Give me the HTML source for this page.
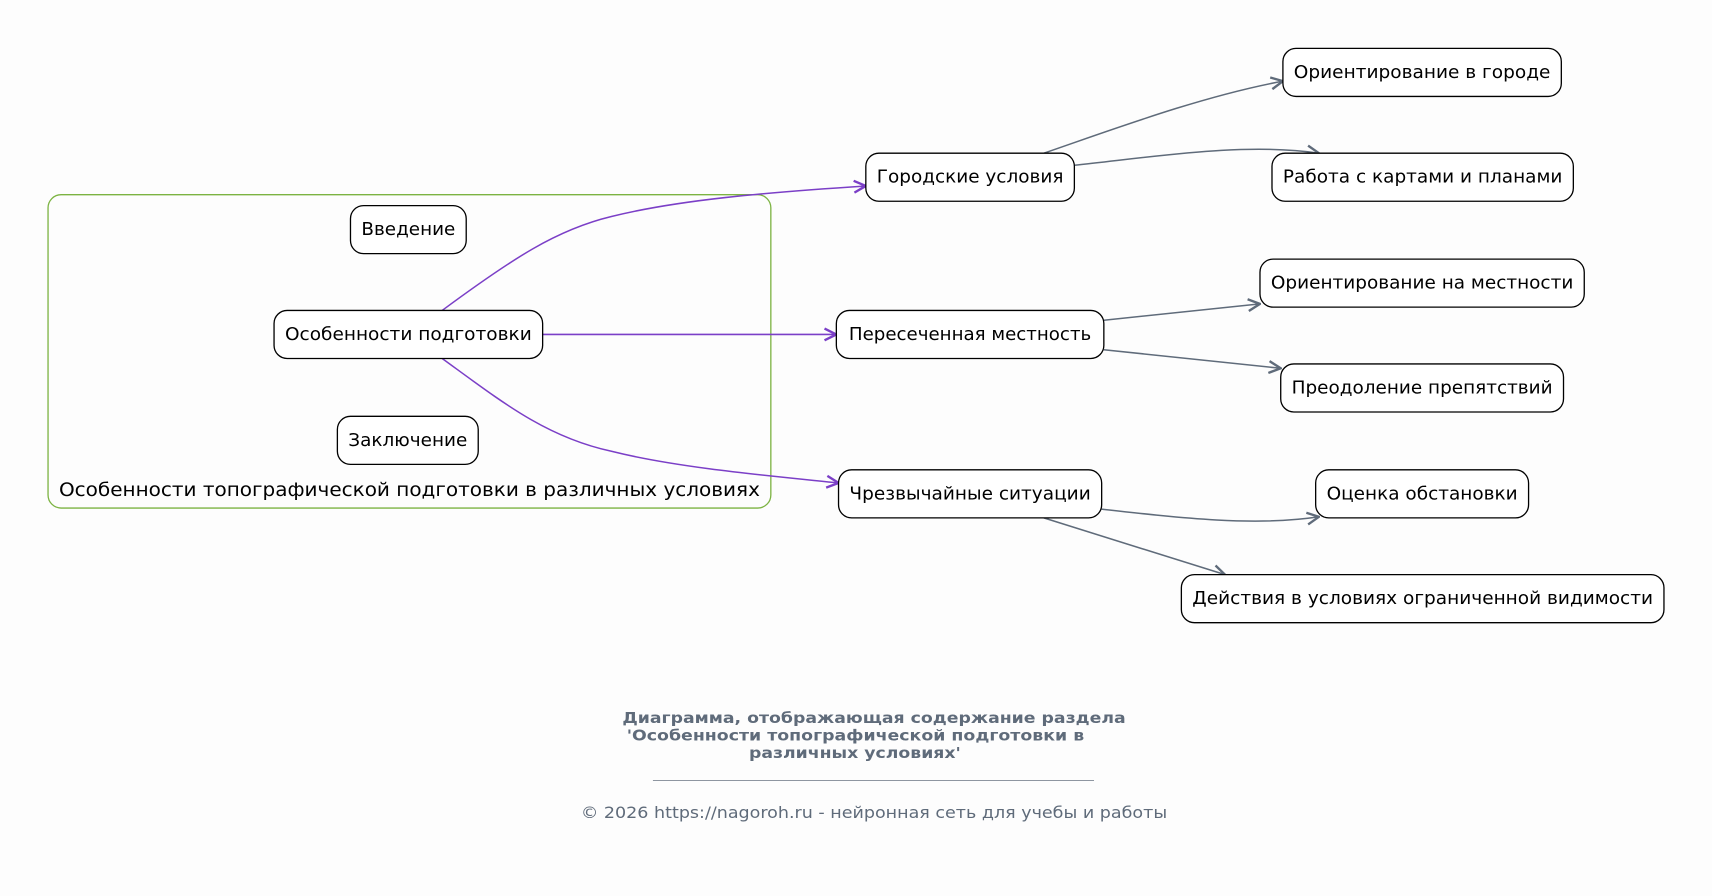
<!DOCTYPE html>
<html><head><meta charset="utf-8"><style>
html,body{margin:0;padding:0;background:#fdfdfd;}
svg{display:block;}
text{font-family:"DejaVu Sans","Liberation Sans",sans-serif;}
</style></head><body>
<svg width="1712" height="896" viewBox="0 0 1568 820" xmlns="http://www.w3.org/2000/svg">
<defs>
<marker id="ap" viewBox="0 0 12 12" refX="11" refY="6" markerWidth="13" markerHeight="13" markerUnits="userSpaceOnUse" orient="auto"><path d="M1,1 L11,6 L1,11" fill="none" stroke="#7b3fc7" stroke-width="2"/></marker>
<marker id="ag" viewBox="0 0 12 12" refX="11" refY="6" markerWidth="13" markerHeight="13" markerUnits="userSpaceOnUse" orient="auto"><path d="M1,1 L11,6 L1,11" fill="none" stroke="#5f6b7a" stroke-width="2"/></marker>
</defs>
<rect x="0" y="0" width="1568" height="820" fill="#fdfdfd"/>
<rect x="44" y="178" width="662" height="287" rx="12" fill="none" stroke="#7cb342" stroke-width="1.2"/>
<text x="54" y="454" font-size="17" fill="#000" textLength="642" lengthAdjust="spacingAndGlyphs">Особенности топографической подготовки в различных условиях</text>

<g fill="none" stroke-width="1.4">
<path d="M405,284 C470,236 510,210 560,198 C620,183 700,176 793,170" stroke="#7b3fc7" marker-end="url(#ap)"/>
<path d="M497,306 L766,306" stroke="#7b3fc7" marker-end="url(#ap)"/>
<path d="M405,328 C460,368 500,400 560,413 C620,428 700,435 768,442" stroke="#7b3fc7" marker-end="url(#ap)"/>
<path d="M956,140 C1020,118 1100,88 1175,74" stroke="#5f6b7a" marker-end="url(#ag)"/>
<path d="M984,151 C1060,143 1140,130 1208,140" stroke="#5f6b7a" marker-end="url(#ag)"/>
<path d="M1011,293 L1154,278" stroke="#5f6b7a" marker-end="url(#ag)"/>
<path d="M1011,320 L1173,337" stroke="#5f6b7a" marker-end="url(#ag)"/>
<path d="M1009,466 C1080,474 1150,482 1208,473" stroke="#5f6b7a" marker-end="url(#ag)"/>
<path d="M956,474 L1122,526" stroke="#5f6b7a" marker-end="url(#ag)"/>
</g>

<g fill="#fff" stroke="#000" stroke-width="1.2">
<rect x="1175" y="44" width="255" height="44" rx="12"/>
<rect x="1165" y="140" width="276" height="44" rx="12"/>
<rect x="793" y="140" width="191" height="44" rx="12"/>
<rect x="1154" y="237" width="297" height="44" rx="12"/>
<rect x="766" y="284" width="245" height="44" rx="12"/>
<rect x="1173" y="333" width="259" height="44" rx="12"/>
<rect x="768" y="430" width="241" height="44" rx="12"/>
<rect x="1205" y="430" width="195" height="44" rx="12"/>
<rect x="1082" y="526" width="442" height="44" rx="12"/>
<rect x="321" y="188" width="106" height="44" rx="12"/>
<rect x="251" y="284" width="246" height="44" rx="12"/>
<rect x="309" y="381" width="129" height="44" rx="12"/>
</g>
<g font-size="16" fill="#000" text-anchor="middle">
<text x="1302.5" y="71" textLength="235" lengthAdjust="spacingAndGlyphs">Ориентирование в городе</text>
<text x="1303" y="167" textLength="256" lengthAdjust="spacingAndGlyphs">Работа с картами и планами</text>
<text x="888.5" y="167" textLength="171" lengthAdjust="spacingAndGlyphs">Городские условия</text>
<text x="1302.5" y="264" textLength="277" lengthAdjust="spacingAndGlyphs">Ориентирование на местности</text>
<text x="888.5" y="311" textLength="222" lengthAdjust="spacingAndGlyphs">Пересеченная местность</text>
<text x="1302.5" y="360" textLength="239" lengthAdjust="spacingAndGlyphs">Преодоление препятствий</text>
<text x="888.5" y="457" textLength="221" lengthAdjust="spacingAndGlyphs">Чрезвычайные ситуации</text>
<text x="1302.5" y="457" textLength="175" lengthAdjust="spacingAndGlyphs">Оценка обстановки</text>
<text x="1303" y="553" textLength="422" lengthAdjust="spacingAndGlyphs">Действия в условиях ограниченной видимости</text>
<text x="374" y="215" textLength="86" lengthAdjust="spacingAndGlyphs">Введение</text>
<text x="374" y="311" textLength="226" lengthAdjust="spacingAndGlyphs">Особенности подготовки</text>
<text x="373.5" y="408" textLength="109" lengthAdjust="spacingAndGlyphs">Заключение</text>
</g>
<g fill="#5f6b7a" font-size="14" font-weight="bold">
<text x="570" y="662" textLength="461" lengthAdjust="spacingAndGlyphs">Диаграмма, отображающая содержание раздела</text>
<text x="574" y="678" textLength="419" lengthAdjust="spacingAndGlyphs">'Особенности топографической подготовки в</text>
<text x="686" y="694" textLength="194" lengthAdjust="spacingAndGlyphs">различных условиях'</text>
</g>
<line x1="598" y1="714.5" x2="1002" y2="714.5" stroke="#5f6b7a" stroke-width="0.8" opacity="0.8"/>
<text x="532" y="749" font-size="15" fill="#5f6b7a" textLength="537" lengthAdjust="spacingAndGlyphs">© 2026 https://nagoroh.ru - нейронная сеть для учебы и работы</text>
</svg>
</body></html>
